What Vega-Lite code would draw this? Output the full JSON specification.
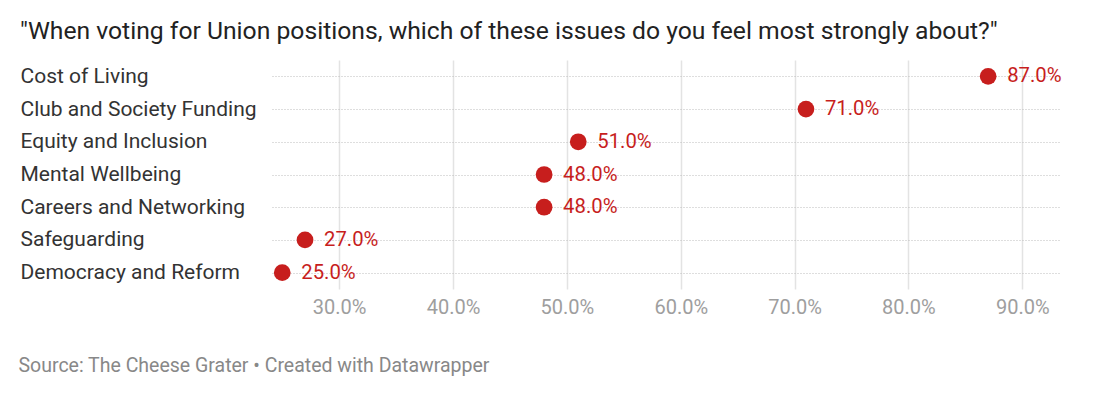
{
  "$schema": "https://vega.github.io/schema/vega-lite/v6.json",
  "autosize": {"type": "none"},
  "width": 789,
  "height": 229,
  "padding": {"left": 272, "top": 60, "right": 39, "bottom": 105},
  "background": "white",
  "title": {
    "text": "\"When voting for Union positions, which of these issues do you feel most strongly about?\"",
    "anchor": "start",
    "frame": "group",
    "dx": -252,
    "offset": -4,
    "baseline": "alphabetic",
    "font": "Roboto",
    "fontSize": 24.7,
    "fontWeight": "normal",
    "color": "#222222"
  },
  "config": {
    "view": {"stroke": null},
    "font": "Roboto"
  },
  "data": {
    "values": [
      {"issue": "Cost of Living", "value": 0.87},
      {"issue": "Club and Society Funding", "value": 0.71},
      {"issue": "Equity and Inclusion", "value": 0.51},
      {"issue": "Mental Wellbeing", "value": 0.48},
      {"issue": "Careers and Networking", "value": 0.48},
      {"issue": "Safeguarding", "value": 0.27},
      {"issue": "Democracy and Reform", "value": 0.25}
    ]
  },
  "encoding": {
    "y": {
      "field": "issue",
      "type": "nominal",
      "sort": null,
      "scale": {"type": "point", "padding": 0.5},
      "axis": {
        "title": null,
        "domain": false,
        "ticks": false,
        "tickSize": 0,
        "labelAlign": "left",
        "labelBaseline": "middle",
        "labelPadding": 252,
        "labelFont": "Roboto",
        "labelFontSize": 21,
        "labelColor": "#333333",
        "labelLimit": 300,
        "grid": true,
        "gridColor": "#bdbdbd",
        "gridDash": [1, 2],
        "gridWidth": 1
      }
    },
    "x": {
      "field": "value",
      "type": "quantitative",
      "scale": {"domain": [0.241, 0.934], "zero": false, "nice": false},
      "axis": {
        "values": [0.3, 0.4, 0.5, 0.6, 0.7, 0.8, 0.9],
        "format": ".1%",
        "domain": false,
        "ticks": false,
        "tickSize": 0,
        "labelPadding": 8,
        "labelFont": "Roboto",
        "labelFontSize": 20,
        "labelColor": "#9e9e9e",
        "grid": true,
        "gridColor": "#e3e3e3",
        "gridWidth": 1.5,
        "title": "Source: The Cheese Grater • Created with Datawrapper",
        "titleAnchor": "start",
        "titleAlign": "left",
        "titleBaseline": "alphabetic",
        "titleX": -254,
        "titleY": 82,
        "titleFont": "Roboto",
        "titleFontSize": 19.5,
        "titleFontWeight": "normal",
        "titleColor": "#888888"
      }
    }
  },
  "layer": [
    {
      "mark": {"type": "point", "filled": true, "size": 280, "color": "#c71e1d", "opacity": 1}
    },
    {
      "mark": {"type": "text", "align": "left", "baseline": "middle", "dx": 19, "fontSize": 20.3, "font": "Roboto", "color": "#c71e1d"},
      "encoding": {
        "text": {"field": "value", "type": "quantitative", "format": ".1%"}
      }
    }
  ]
}
